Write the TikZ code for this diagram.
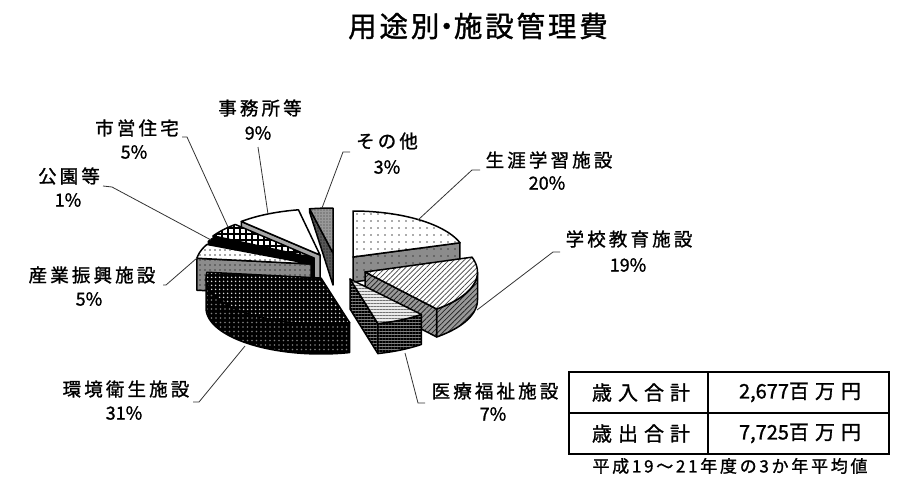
\documentclass[tikz,border=0pt]{standalone}
\usepackage{fontspec}
\setmainfont[FakeBold=1.2]{Noto Sans CJK JP}
\newfontfamily\ttlfont[LetterSpace=10,FakeBold=1.2]{Noto Sans CJK JP}
\newfontfamily\labfont[LetterSpace=17,FakeBold=1.2]{Noto Sans CJK JP}
\newfontfamily\tabfont[LetterSpace=30,FakeBold=1.2]{Noto Sans CJK JP}
\newfontfamily\ftnfont[LetterSpace=16,FakeBold=1.2]{Noto Sans CJK JP}
\usetikzlibrary{patterns.meta}
\tikzset{
  pface/.style={draw=black, line width=1.5pt, line join=round},
  s1top/.style={pface, preaction={fill=white}, pattern={Dots[distance=7pt,radius=0.8pt]}, pattern color=black!65},
  s1side/.style={pface, preaction={fill=black!45}, pattern={Dots[distance=7pt,radius=0.8pt]}, pattern color=black!75},
  s2top/.style={pface, preaction={fill=white}, pattern={Lines[angle=45,distance=3.6pt,line width=0.7pt]}, pattern color=black!75},
  s2side/.style={pface, preaction={fill=black!40}, pattern={Lines[angle=45,distance=3.6pt,line width=0.8pt]}, pattern color=black!85},
  s3top/.style={pface, preaction={fill=black!8}, pattern={Lines[angle=0,distance=3pt,line width=0.8pt]}, pattern color=black!55},
  s3side/.style={pface, preaction={fill=black!50}, pattern={Lines[angle=0,distance=3pt,line width=1.1pt]}, pattern color=black},
  s4top/.style={pface, preaction={fill=black}, pattern={Dots[distance=4pt,radius=1pt]}, pattern color=white!85!black},
  s4side/.style={pface, preaction={fill=black}, pattern={Dots[distance=4.5pt,radius=0.9pt]}, pattern color=black!50},
  s5top/.style={pface, preaction={fill=white}, pattern={Dots[distance=5pt,radius=0.9pt]}, pattern color=black!70},
  s5side/.style={pface, preaction={fill=black!45}, pattern={Dots[distance=5pt,radius=0.9pt]}, pattern color=black!75},
  s6face/.style={pface, fill=black},
  s7top/.style={pface, preaction={fill=white}, pattern={Hatch[angle=0,distance=6pt,line width=1.3pt]}, pattern color=black},
  s7side/.style={pface, fill=black},
  s8top/.style={pface, fill=white},
  s8side/.style={pface, fill=black!35},
  s9top/.style={pface, preaction={fill=black!40}, pattern={Dots[distance=3pt,radius=0.7pt]}, pattern color=black!80},
  s9side/.style={pface, preaction={fill=black!65}, pattern={Dots[distance=3pt,radius=0.7pt]}, pattern color=black},
  lead/.style={draw=black!80, line width=0.8pt},
  lab/.style={inner sep=0pt, font=\labfont\fontsize{18.5}{22}\selectfont},
  pct/.style={inner sep=0pt, font=\fontsize{18}{22}\selectfont},
  cell/.style={inner sep=0pt, font=\fontsize{20}{24}\selectfont},
}
\begin{document}
\begin{tikzpicture}[x=1pt,y=-1pt]
\useasboundingbox (0,0) rectangle (900,480);
\fill[white] (0,0) rectangle (900,480);

% title
\node[inner sep=0pt, font=\ttlfont\fontsize{28.5}{33}\selectfont] (title) at (478,26) {用途別\kern-7pt・\kern-7pt施設管理費};

% S9 その他 [349.2,360]
\path[s9side] ({333+125*sin(349.2)},{253-45*cos(349.2)}) -- (333,253) -- (333,285) -- ({333+125*sin(349.2)},212) -- cycle;
\path[s9top] (333,253) -- plot[domain=349.2:360,samples=20] ({333+125*sin(\x)},{253-45*cos(\x)}) -- cycle;

% S8 事務所等 [316.8,349.2]
\path[s8side] (320,255) -- ({320+115*sin(316.8)},{255-46*cos(316.8)}) -- ({320+115*sin(316.8)},{285-46*cos(316.8)}) -- (320,285) -- cycle;
\path[s8top] (320,255) -- plot[domain=316.8:349.2,samples=30] ({320+115*sin(\x)},{255-46*cos(\x)}) -- cycle;

% S7 市営住宅 [298.8,316.8]
\path[s7side] (314,258) -- ({314+115*sin(298.8)},{258-46*cos(298.8)}) -- ({314+115*sin(298.8)},{288-46*cos(298.8)}) -- (314,288) -- cycle;
\path[s7top] (314,258) -- plot[domain=298.8:316.8,samples=20] ({314+115*sin(\x)},{258-46*cos(\x)}) -- cycle;

% S6 公園等 [295.2,298.8]
\path[s6face] (312.5,261) -- ({312.5+115*sin(295.2)},{261-46*cos(295.2)}) -- ({312.5+115*sin(295.2)},{291-46*cos(295.2)}) -- (312.5,291) -- cycle;
\path[s6face] (312.5,261) -- plot[domain=295.2:298.8,samples=5] ({312.5+115*sin(\x)},{261-46*cos(\x)}) -- cycle;

% S5 産業振興 [277.2,295.2]
\path[s5side] (311,264) -- ({311+115*sin(277.2)},{264-46*cos(277.2)}) -- ({311+115*sin(277.2)},{296-46*cos(277.2)}) -- (311,296) -- cycle;
\path[s5top] (311,264) -- plot[domain=277.2:295.2,samples=20] ({311+115*sin(\x)},{264-46*cos(\x)}) -- cycle;

% S4 環境衛生 [165.6,277.2]
\path[s4side] plot[domain=165.6:270,samples=40] ({321+115*sin(\x)},{278-46*cos(\x)}) -- plot[domain=270:165.6,samples=40] ({321+115*sin(\x)},{308-46*cos(\x)}) -- cycle;
\path[s4top] (321,278) -- plot[domain=165.6:277.2,samples=40] ({321+115*sin(\x)},{278-46*cos(\x)}) -- cycle;

% S1 生涯学習 [0,72]
\path[s1side] (353,257) -- ({353+112.5*sin(72)},{257-46*cos(72)}) -- ({353+112.5*sin(72)},{282-46*cos(72)}) -- (353,282) -- cycle;
\path[s1top] (353,257) -- plot[domain=0:72,samples=30] ({353+112.5*sin(\x)},{257-46*cos(\x)}) -- cycle;

% S2 学校教育 [72,140.4]
\path[s2side] plot[domain=90:140.4,samples=25] ({365+112.5*sin(\x)},{272-48*cos(\x)}) -- plot[domain=140.4:90,samples=25] ({365+112.5*sin(\x)},{300-48*cos(\x)}) -- cycle;
\path[s2side] (365,272) -- ({365+112.5*sin(140.4)},{272-48*cos(140.4)}) -- ({365+112.5*sin(140.4)},{300-48*cos(140.4)}) -- (365,300) -- cycle;
\path[s2top] (365,272) -- plot[domain=72:140.4,samples=30] ({365+112.5*sin(\x)},{272-48*cos(\x)}) -- cycle;

% S3 医療福祉 [140.4,165.6]
\path[s3side] (350,279) -- ({350+112*sin(165.6)},{279-46*cos(165.6)}) -- ({350+112*sin(165.6)},{309-46*cos(165.6)}) -- (350,309) -- cycle;
\path[s3side] plot[domain=140.4:165.6,samples=15] ({350+112*sin(\x)},{279-46*cos(\x)}) -- plot[domain=165.6:140.4,samples=15] ({350+112*sin(\x)},{309-46*cos(\x)}) -- cycle;
\path[s3top] (350,279) -- plot[domain=140.4:165.6,samples=15] ({350+112*sin(\x)},{279-46*cos(\x)}) -- cycle;

% labels
\node[lab] (l1) at (549,160) {生涯学習施設};
\node[pct] (p1) at (547,183) {20\%};
\node[lab] (l2) at (629,239) {学校教育施設};
\node[pct] (p2) at (628,265) {19\%};
\node[lab] (l3) at (495,391) {医療福祉施設};
\node[pct] (p3) at (493,414) {7\%};
\node[lab] (l4) at (126,389) {環境衛生施設};
\node[pct] (p4) at (124,413) {31\%};
\node[lab] (l5) at (92,275) {産業振興施設};
\node[pct] (p5) at (89,299) {5\%};
\node[lab] (l6) at (69,176) {公園等};
\node[pct] (p6) at (68,200) {1\%};
\node[lab] (l7) at (137,128) {市営住宅};
\node[pct] (p7) at (134,152) {5\%};
\node[lab] (l8) at (260,108) {事務所等};
\node[pct] (p8) at (258,133) {9\%};
\node[lab] (l9) at (387,141) {その他};
\node[pct] (p9) at (387,167) {3\%};

% leader lines
\coordinate (a1) at (480,170); \coordinate (m1) at (472,170); \coordinate (b1) at (418,220);
\coordinate (a2) at (560,252); \coordinate (m2) at (553,252); \coordinate (b2) at (477,310);
\coordinate (a3) at (425,403); \coordinate (m3) at (418,403); \coordinate (b3) at (405,353);
\coordinate (a4) at (193,402); \coordinate (m4) at (199,402); \coordinate (b4) at (245,346);
\coordinate (a5) at (163,285); \coordinate (m5) at (166,285); \coordinate (b5) at (197,258);
\coordinate (a6) at (103,186); \coordinate (m6) at (112,187); \coordinate (b6) at (211,240);
\coordinate (a7) at (182,137); \coordinate (m7) at (187,137); \coordinate (b7) at (228,227);
\coordinate (a8) at (258,147); \coordinate (b8) at (268,214);
\coordinate (a9) at (350,152); \coordinate (m9) at (343,152); \coordinate (b9) at (322,208);
\draw[lead] (a1) -- (m1) -- (b1);
\draw[lead] (a2) -- (m2) -- (b2);
\draw[lead] (a3) -- (m3) -- (b3);
\draw[lead] (a4) -- (m4) -- (b4);
\draw[lead] (a5) -- (m5) -- (b5);
\draw[lead] (a6) -- (m6) -- (b6);
\draw[lead] (a7) -- (m7) -- (b7);
\draw[lead] (a8) -- (b8);
\draw[lead] (a9) -- (m9) -- (b9);

% table
\draw[line width=1.2pt] (569,372) rectangle (889,454);
\draw[line width=1.2pt] (708,372) -- (708,454);
\draw[line width=1.2pt] (569,413) -- (889,413);
\node[cell] (t11) at (641,392.5) {\tabfont 歳入合計};
\node[cell] (t12) at (800,392.5) {2,677{\tabfont 百万円}};
\node[cell] (t21) at (641,433.5) {\tabfont 歳出合計};
\node[cell] (t22) at (800,433.5) {7,725{\tabfont 百万円}};
\node[inner sep=0pt, font=\ftnfont\fontsize{17}{20}\selectfont] (foot) at (730,466) {平成19～21年度の3か年平均値};
\end{tikzpicture}
\end{document}
